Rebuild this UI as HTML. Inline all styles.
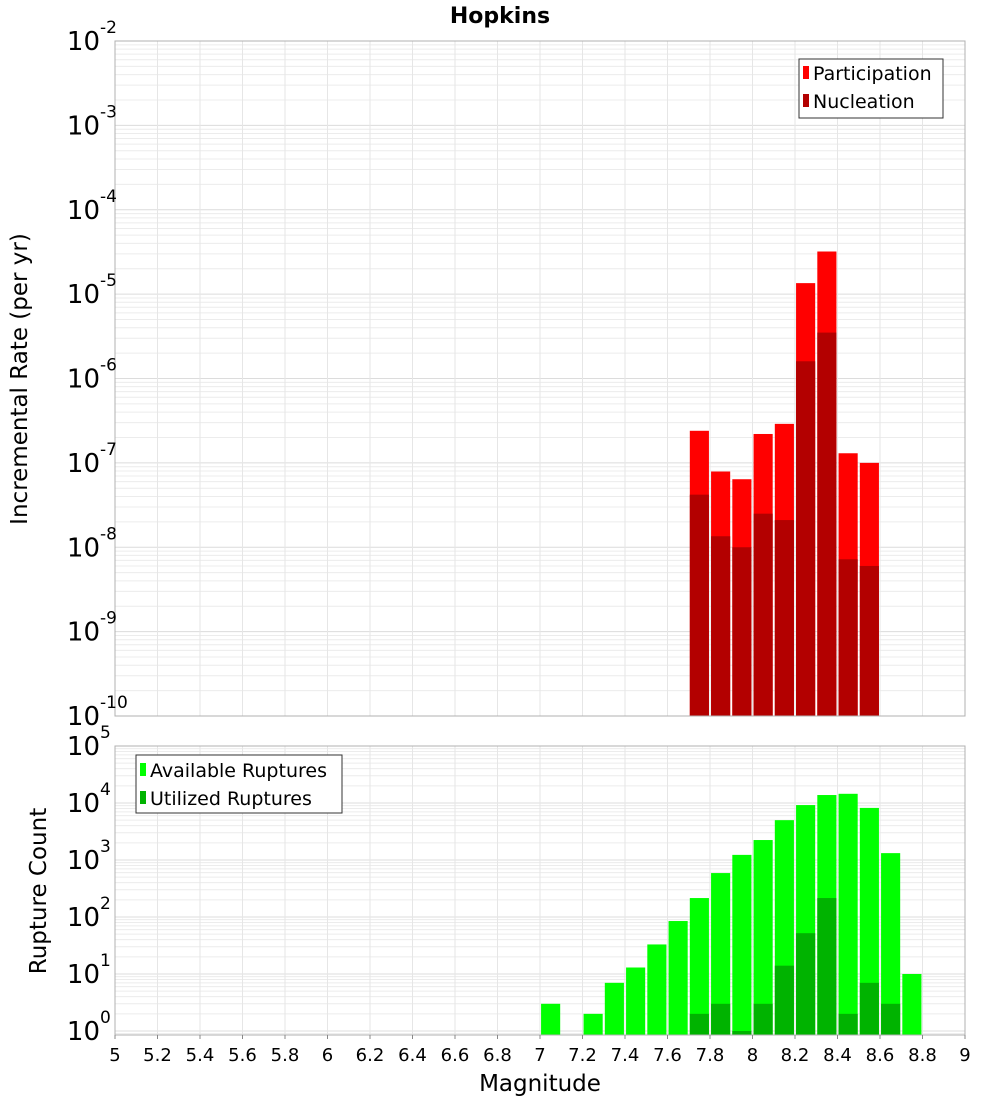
<!DOCTYPE html>
<html><head><meta charset="utf-8"><style>
body{margin:0;background:#fff;}
svg{display:block;font-family:"DejaVu Sans","Liberation Sans",sans-serif;}
</style></head><body>
<svg id="c" width="1000" height="1100"></svg>
<script>
const magCenters=[7.75,7.85,7.95,8.05,8.15,8.25,8.35,8.45,8.55];
const participation=[2.4e-7,7.9e-8,6.4e-8,2.2e-7,2.9e-7,1.35e-5,3.2e-5,1.3e-7,1.0e-7];
const nucleation=[4.2e-8,1.35e-8,1.0e-8,2.5e-8,2.1e-8,1.6e-6,3.5e-6,7.2e-9,6e-9];
const countCenters=[7.05,7.25,7.35,7.45,7.55,7.65,7.75,7.85,7.95,8.05,8.15,8.25,8.35,8.45,8.55,8.65,8.75];
const available=[3,2,7,13,33,85,215,590,1230,2240,5000,9200,13800,14500,8200,1320,10];
const utilizedCenters=[7.75,7.85,7.95,8.05,8.15,8.25,8.35,8.45,8.55,8.65];
const utilized=[2,3,1,3,14,52,215,2,7,3];
const xTicks=[5,5.2,5.4,5.6,5.8,6,6.2,6.4,6.6,6.8,7,7.2,7.4,7.6,7.8,8,8.2,8.4,8.6,8.8,9];
const topExp=[-10,-9,-8,-7,-6,-5,-4,-3,-2];
const botExp=[0,1,2,3,4,5];

const NS="http://www.w3.org/2000/svg";
const svg=document.getElementById('c');
function el(t,a,p){const e=document.createElementNS(NS,t);for(const k in a)e.setAttribute(k,a[k]);(p||svg).appendChild(e);return e;}
const X0=115,X1=965;
const xs=v=>X0+(v-5)/4*(X1-X0);
const T0=41,T1=716, B0=746,B1=1035;
const yTop=v=>T1-(Math.log10(v)+10)*(T1-T0)/8;
const BD=57;
const yBot=v=>1031-Math.log10(v)*BD;

function grid(y0,y1,yf,eMin,eMax,name){
  const g=el('g',{});
  
  
  for(let e=eMin;e<eMax+1;e++){for(let m=1;m<10;m++){const y=yf(m*Math.pow(10,e));if(y<y0||y>y1)continue;
    el('line',{x1:X0,x2:X1,y1:y,y2:y,stroke:m==1?'#dcdcdc':'#ececec','stroke-width':1},g);}}
  xTicks.forEach(t=>{el('line',{x1:xs(t),x2:xs(t),y1:y0,y2:y1,stroke:'#e6e6e6','stroke-width':1},g);});
}
grid(T0,T1,yTop,-10,-2,'top-grid');
grid(B0,B1,yBot,-1,5,'bottom-grid');

function bar(c,v,yf,base,color,name){
  const r=el('rect',{x:xs(c-0.045),width:xs(c+0.045)-xs(c-0.045),y:yf(v),height:base-yf(v),fill:color});
  
  
}
magCenters.forEach((c,i)=>bar(c,participation[i],yTop,T1,'#ff0000','participation-bar'));
magCenters.forEach((c,i)=>bar(c,nucleation[i],yTop,T1,'#b30000','nucleation-bar'));
countCenters.forEach((c,i)=>bar(c,available[i],yBot,B1,'#00ff00','available-bar'));
utilizedCenters.forEach((c,i)=>bar(c,utilized[i],yBot,B1,'#00b300','utilized-bar'));

el('rect',{x:X0,y:T0,width:X1-X0,height:T1-T0,fill:'none',stroke:'#b0b0b0'});
el('rect',{x:X0,y:B0,width:X1-X0,height:B1-B0,fill:'none',stroke:'#b0b0b0'});

function ylab(y,e,name){
  const t=el('text',{x:100,y:y+9,'font-size':26,'text-anchor':'end',fill:'#000'});
  t.textContent='10';
  
  
  const s=el('text',{x:100,y:y-8,'font-size':17,fill:'#000'});
  s.textContent=String(e);
  
  
}
topExp.forEach(e=>ylab(yTop(Math.pow(10,e)),e,'top-y-tick'));
botExp.forEach(e=>ylab(yBot(Math.pow(10,e)),e,'bottom-y-tick'));
xTicks.forEach(t=>{const tx=el('text',{x:xs(t),y:1061,'font-size':18,'text-anchor':'middle'});tx.textContent=String(t);
  
  el('line',{x1:xs(t),x2:xs(t),y1:B1,y2:B1+4,stroke:'#888'});});
</script>
<svg style="position:absolute;left:0;top:0" width="1000" height="1100">
<text x="500" y="23" font-size="22" font-weight="bold" text-anchor="middle" font-family="DejaVu Sans,sans-serif">Hopkins</text>
<text transform="translate(27,379) rotate(-90)" font-size="23" text-anchor="middle" font-family="DejaVu Sans,sans-serif">Incremental Rate (per yr)</text>
<text transform="translate(46,891) rotate(-90)" font-size="23" text-anchor="middle" font-family="DejaVu Sans,sans-serif">Rupture Count</text>
<text x="540" y="1091" font-size="23" text-anchor="middle" font-family="DejaVu Sans,sans-serif">Magnitude</text>
<g font-family="DejaVu Sans,sans-serif" font-size="19">
<rect x="799" y="59" width="144" height="59" fill="#fff" stroke="#333"/>
<rect x="803" y="66" width="6" height="13" fill="#ff0000"/><text x="813" y="80">Participation</text>
<rect x="803" y="94" width="6" height="13" fill="#b30000"/><text x="813" y="108">Nucleation</text>
</g>
<g font-family="DejaVu Sans,sans-serif" font-size="19">
<rect x="136" y="755" width="206" height="58" fill="#fff" stroke="#333"/>
<rect x="140" y="763" width="6" height="13" fill="#00ff00"/><text x="150" y="777">Available Ruptures</text>
<rect x="140" y="791" width="6" height="13" fill="#00b300"/><text x="150" y="805">Utilized Ruptures</text>
</g>
</svg>
</body></html>
